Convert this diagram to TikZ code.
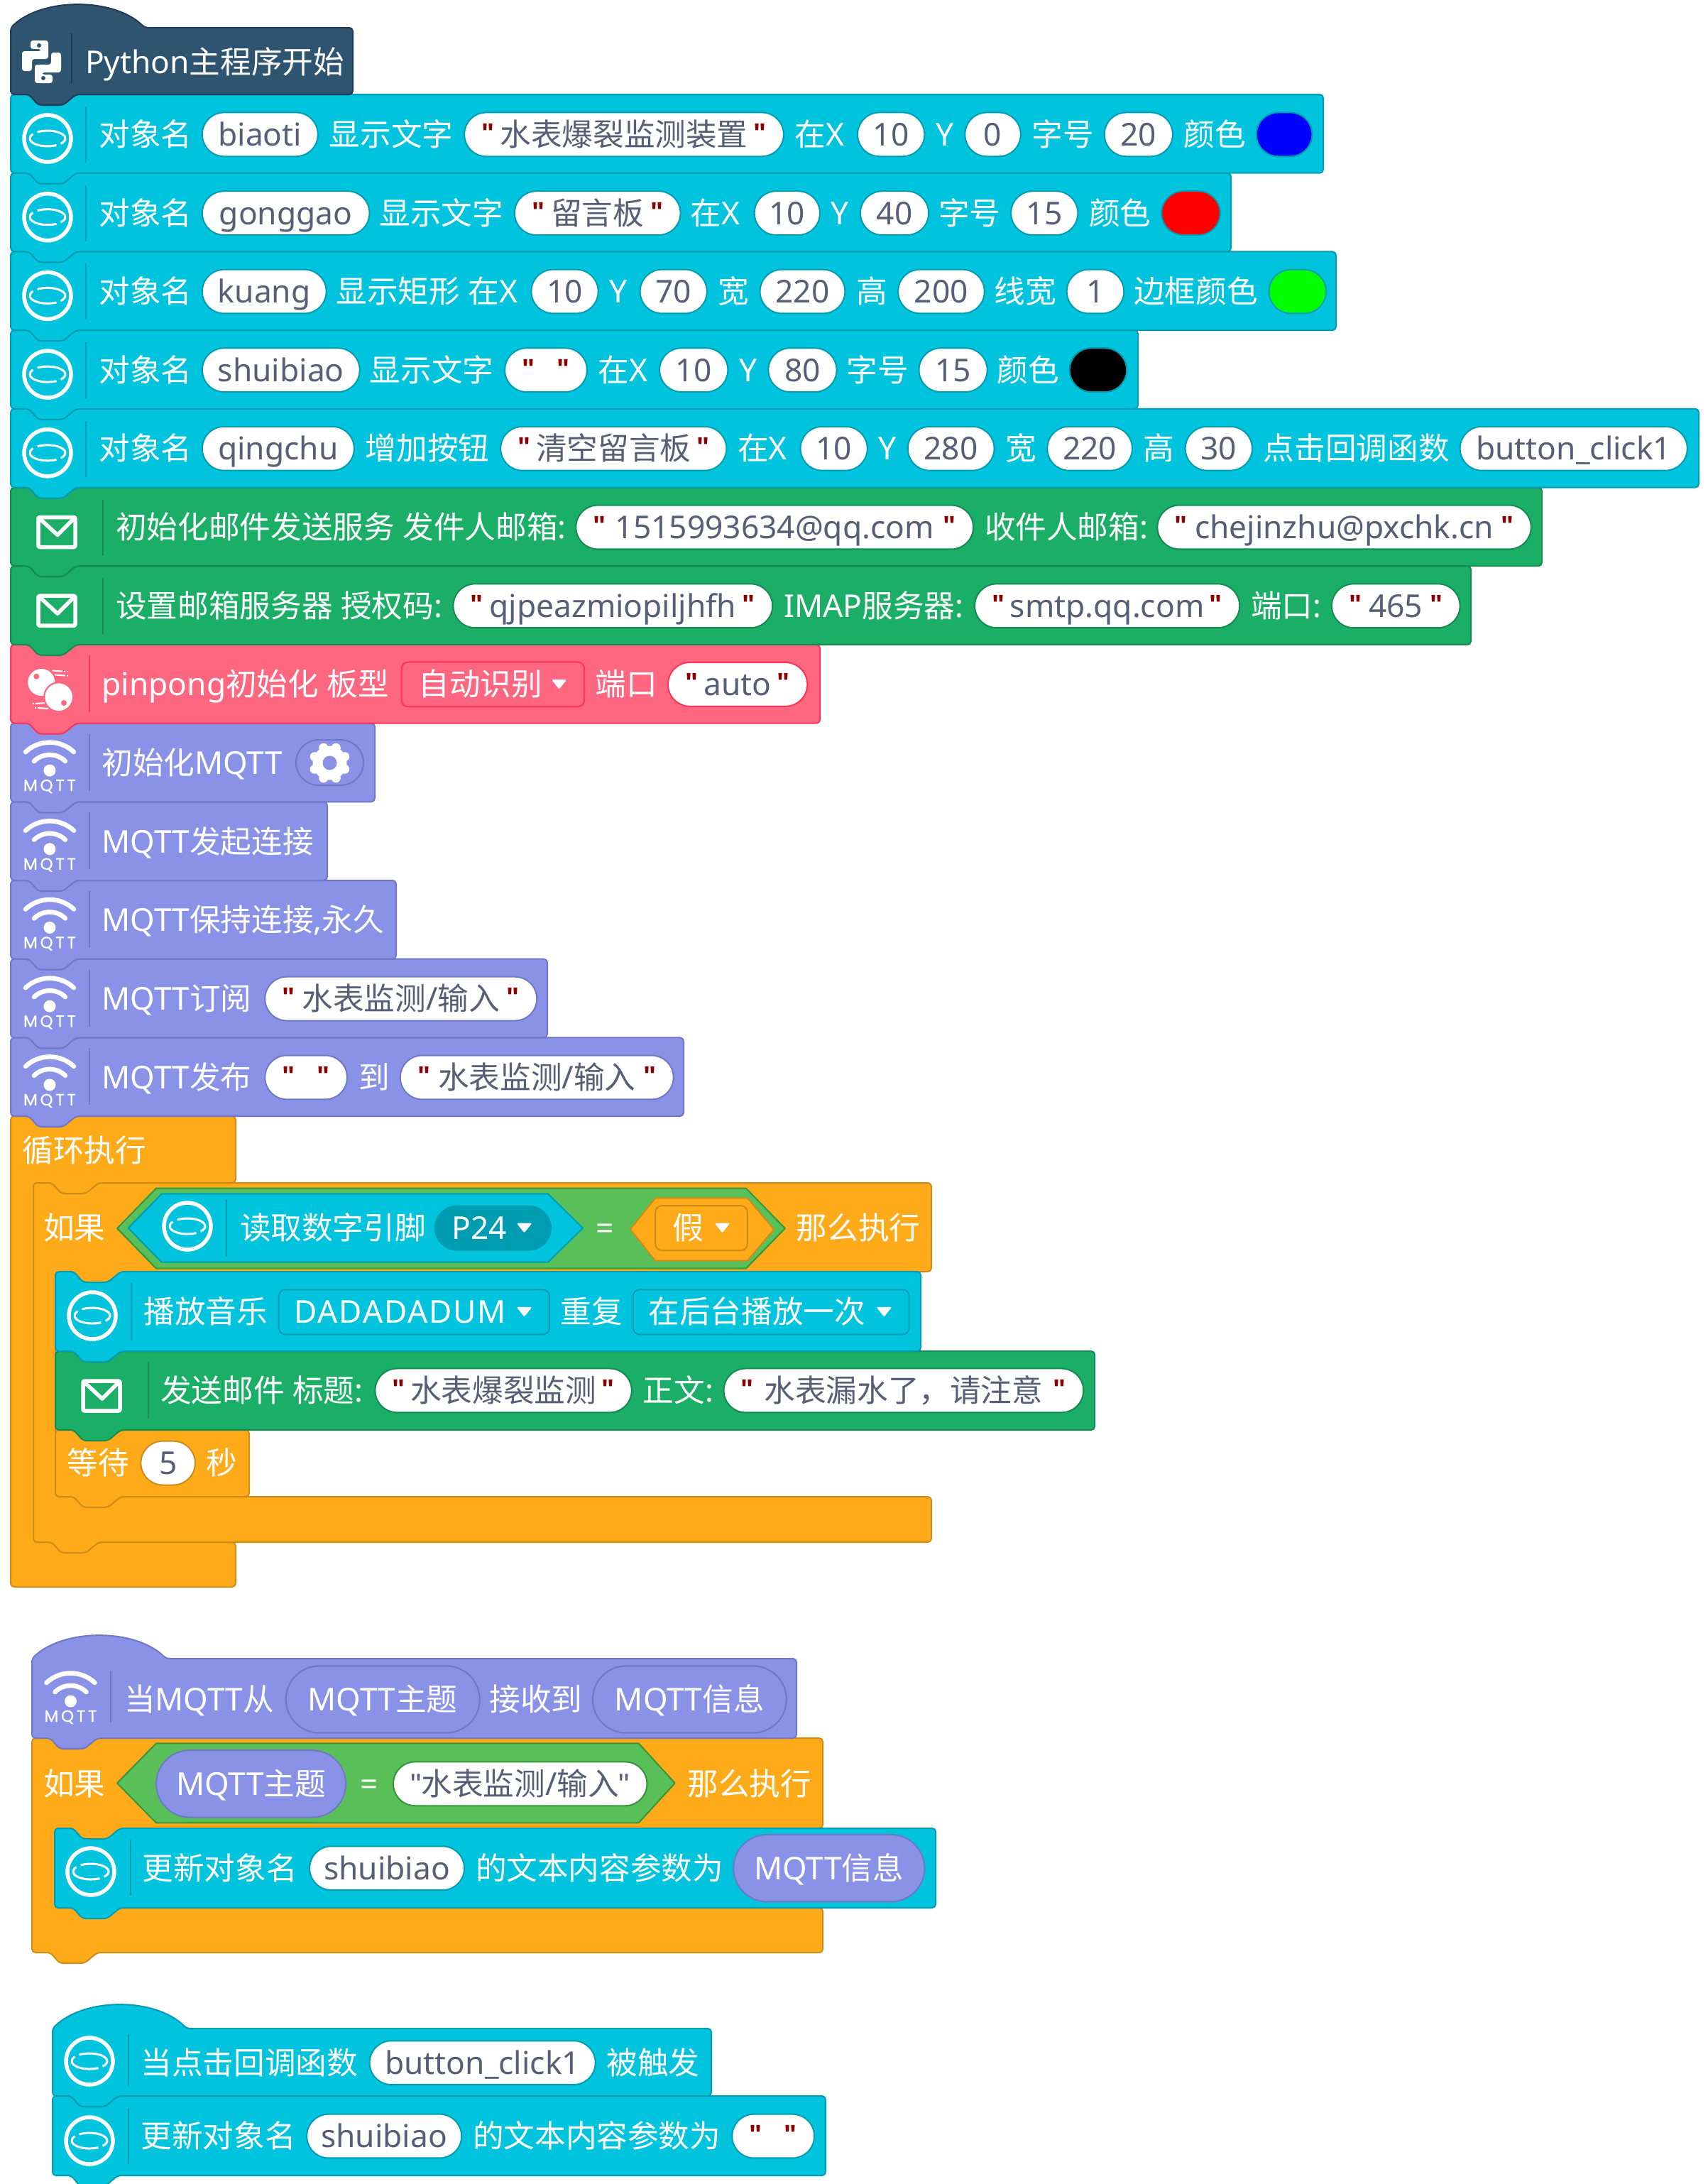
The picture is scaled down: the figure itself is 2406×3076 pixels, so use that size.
\documentclass[tikz,border=0pt]{standalone}
\usepackage{fontspec}
\setmainfont{Noto Sans}[Scale=1.03]
\newfontfamily\cjkf{Noto Sans CJK SC}[Scale=1.015]
\newfontfamily\mqf[LetterSpace=16,FakeBold=0.8]{Poppins}
\newfontfamily\qf{Liberation Sans}
\newcount\ccn
\ccn="3000 \loop \XeTeXcharclass\ccn=5 \advance\ccn 1 \ifnum\ccn<"A000 \repeat
\ccn="FF00 \loop \XeTeXcharclass\ccn=5 \advance\ccn 1 \ifnum\ccn<"FFF0 \repeat
\XeTeXinterchartoks 0 5 = {\cjkf}
\XeTeXinterchartoks 4095 5 = {\cjkf}
\XeTeXinterchartoks 5 0 = {\rmfamily}
\XeTeXinterchartoks 5 4095 = {\rmfamily}
\AtBeginDocument{\XeTeXinterchartokenstate=1}
\definecolor{cy}{HTML}{00C3DD}\definecolor{cyD}{HTML}{009CB1}
\definecolor{gr}{HTML}{1AAE66}\definecolor{grD}{HTML}{148B52}
\definecolor{re}{HTML}{FF6680}\definecolor{reD}{HTML}{FF3355}
\definecolor{pu}{HTML}{8A92E8}\definecolor{puD}{HTML}{6F78C4}
\definecolor{or}{HTML}{FFAB19}\definecolor{orD}{HTML}{CF8B17}
\definecolor{dk}{HTML}{2F5470}\definecolor{dkD}{HTML}{1F3B57}
\definecolor{bo}{HTML}{59C059}\definecolor{boD}{HTML}{389438}
\definecolor{tg}{HTML}{575E75}\definecolor{qc}{HTML}{8B0000}
\newcounter{nid}
\def\cs{cyD}\def\cf{cy}
\tikzset{
 lbl/.style={anchor=base west,inner sep=0pt,text=white,font=\fontsize{43}{50}\selectfont},
 ptx/.style={anchor=base,inner sep=0pt,text=tg,font=\fontsize{43}{50}\selectfont},
 wtx/.style={anchor=base,inner sep=0pt,text=white,font=\fontsize{43}{50}\selectfont},
 qtx/.style={anchor=base,inner sep=0pt,text=qc,font=\qf\bfseries\fontsize{38}{40}\selectfont},
 mtx/.style={anchor=base,inner sep=0pt,text=white,font=\mqf\fontsize{23}{25}\selectfont},
 edge/.style={line width=2pt,rounded corners=5pt,line join=round}
}
% block with top notch and bottom tab
\newcommand{\blk}[6]{\draw[edge,fill=#5,draw=#6] (#1,#2) -- ({#1+26},#2) -- ({#1+39},{#2+15}) -- ({#1+74},{#2+15}) -- ({#1+92},#2) -- (#4,#2) -- (#4,#3) -- ({#1+92},#3) -- ({#1+74},{#3+15}) -- ({#1+39},{#3+15}) -- ({#1+26},#3) -- (#1,#3) -- cycle;}
% hat: x, ybody, archeight, y2, xr, fill, stroke
\newcommand{\hatblk}[7]{\draw[edge,fill=#6,draw=#7] (#1,#2) .. controls ({#1+45},{#2-#3/0.75}) and ({#1+145},{#2-#3/0.75}) .. ({#1+189},#2) -- (#5,#2) -- (#5,#4) -- ({#1+92},#4) -- ({#1+74},{#4+15}) -- ({#1+39},{#4+15}) -- ({#1+26},#4) -- (#1,#4) -- cycle;}
\newcommand{\sepl}[4]{\draw[line width=2pt,draw=#4] (#1,#2) -- (#1,#3);}
\newcommand{\ring}[2]{\begin{scope}[shift={(#1,#2)}]
 \draw[white,line width=5.5pt] (0,0) circle[radius=33pt];
 \draw[white,line width=3pt] ({25*cos(-42)},{-11*sin(-42)}) arc[start angle=-42,end angle=125,x radius=25pt,y radius=11pt];
 \draw[white,line width=3pt] ({25*cos(145)},{-11*sin(145)}) arc[start angle=145,end angle=300,x radius=25pt,y radius=11pt];
 \end{scope}}
\newcommand{\wifi}[2]{\begin{scope}[shift={(#1,#2)}]
 \fill[white] (0,0) circle[radius=8.5pt];
 \draw[white,line width=6.5pt,line cap=round] (-34,-26) .. controls (-15,-44) and (15,-44) .. (34,-26);
 \draw[white,line width=6.5pt,line cap=round] (-22,-13) .. controls (-10,-25) and (10,-25) .. (22,-13);
 \stepcounter{nid}\node[mtx] (n\thenid) at (0,29) {MQTT};
 \end{scope}}
\newcommand{\mail}[2]{\begin{scope}[shift={(#1,#2)}]
 \draw[white,line width=5.5pt,rounded corners=2pt,line join=round] (0,0) rectangle (52,42);
 \draw[white,line width=5.5pt,line join=round,line cap=round] (1,1) -- (27,25) -- (51,1);
 \end{scope}}
\newcommand{\gear}[2]{\begin{scope}[shift={(#1,#2)}]
 \fill[white] (0,0) circle[radius=24pt];
 \foreach \a in {22.5,67.5,...,337.5}{\fill[white] (\a:23pt) circle[radius=6.5pt];}
 \fill[pu] (0,0) circle[radius=10pt];
 \end{scope}}
% overview-unit content
\newcommand{\tx}[3]{\stepcounter{nid}\node[lbl] (n\thenid) at (#1,{#2+8.1}) {#3};}
\newcommand{\pbody}[6]{\draw[line width=2pt,fill=#5,draw=#6,rounded corners={#4*1.9643pt}] (#1,{#3-#4}) rectangle (#2,{#3+#4});}
\newcommand{\pw}[4]{\pbody{#1}{#2}{#3}{15.75}{white}{\cs}\stepcounter{nid}\node[ptx] (n\thenid) at ({(#1+#2)/2},{#3+8.1}) {#4};}
\newcommand{\qs}[4]{\pbody{#1}{#2}{#3}{15.75}{white}{\cs}
 \stepcounter{nid}\node[ptx] (n\thenid) at ({(#1+#2)/2},{#3+8.1}) {#4};
 \stepcounter{nid}\node[qtx] (n\thenid) at ({#1+17},{#3+5.6}) {"};
 \stepcounter{nid}\node[qtx] (n\thenid) at ({#2-17},{#3+5.6}) {"};}
\newcommand{\pp}[5]{\pbody{#1}{#2}{#3}{#4}{pu}{puD}\stepcounter{nid}\node[wtx] (n\thenid) at ({(#1+#2)/2},{#3+8.1}) {#5};}
\newcommand{\sw}[4]{\pbody{#1}{#2}{#3}{15.75}{#4}{\cs}}
\newcommand{\ra}[2]{\fill[white,rounded corners=1.5pt] ({#1-5.5},{#2-3.5}) -- ({#1+5.5},{#2-3.5}) -- (#1,{#2+3.5}) -- cycle;}
\newcommand{\dd}[6]{\draw[line width=2pt,fill=\cf,draw=\cs,rounded corners=9pt] (#1,{#3-16}) rectangle (#2,{#3+16});\tx{#4}{#3}{#5}\ra{#6}{#3}}
\newcommand{\hexa}[8]{\draw[line width=2pt,line join=round,fill=#7,draw=#8] (#1,{(#5+#6)/2}) -- (#2,#5) -- (#3,#5) -- (#4,{(#5+#6)/2}) -- (#3,#6) -- (#2,#6) -- cycle;}
\begin{document}
\begin{tikzpicture}[x=1pt,y=-1pt]
\useasboundingbox (0,0) rectangle (2406,3076);
\fill[white] (0,0) rectangle (2406,3076);
% === stack 1, drawn bottom first ===
% loop
\draw[edge,fill=or,draw=orD] (15,1572) -- (41,1572) -- (54,1587) -- (89,1587) -- (107,1572) -- (332,1572) -- (332,1666) -- (139,1666) -- (121,1681) -- (86,1681) -- (73,1666) -- (47,1666) -- (47,2172) -- (332,2172) -- (332,2235) -- (15,2235) -- cycle;
% if
\draw[edge,fill=or,draw=orD] (47,1666) -- (73,1666) -- (86,1681) -- (121,1681) -- (139,1666) -- (1312,1666) -- (1312,1791) -- (170,1791) -- (152,1806) -- (117,1806) -- (104,1791) -- (78,1791) -- (78,2108) -- (1312,2108) -- (1312,2172) -- (139,2172) -- (121,2187) -- (86,2187) -- (73,2172) -- (47,2172) -- cycle;
\blk{78}{2014}{2108}{351}{or}{orD}
\blk{78}{1903}{2014}{1542}{gr}{grD}
\blk{78}{1791}{1903}{1297}{cy}{cyD}
\blk{15}{1461.4}{1572}{963}{pu}{puD}
\blk{15}{1350.7}{1461.4}{771}{pu}{puD}
\blk{15}{1240}{1350.7}{558}{pu}{puD}
\blk{15}{1129.3}{1240}{461}{pu}{puD}
\blk{15}{1018.6}{1129.3}{528}{pu}{puD}
\blk{15}{907.9}{1018.6}{1155}{re}{reD}
\blk{15}{797.2}{907.9}{2072}{gr}{grD}
\blk{15}{686.5}{797.2}{2172}{gr}{grD}
\blk{15}{575.8}{686.5}{2393}{cy}{cyD}
\blk{15}{465.1}{575.8}{1603}{cy}{cyD}
\blk{15}{354.4}{465.1}{1882}{cy}{cyD}
\blk{15}{243.7}{354.4}{1734}{cy}{cyD}
\blk{15}{133}{243.7}{1864}{cy}{cyD}
\hatblk{15}{39}{32}{133}{497}{dk}{dkD}
% === stack 2 ===
\draw[edge,fill=or,draw=orD] (45,2448) -- (71,2448) -- (84,2463) -- (119,2463) -- (137,2448) -- (1159,2448) -- (1159,2575) -- (169,2575) -- (151,2590) -- (116,2590) -- (103,2575) -- (77,2575) -- (77,2687) -- (1159,2687) -- (1159,2750) -- (137,2750) -- (119,2765) -- (84,2765) -- (71,2750) -- (45,2750) -- cycle;
\blk{77}{2575}{2687}{1318}{cy}{cyD}
\hatblk{45}{2336}{32}{2448}{1122}{pu}{puD}
% === stack 3 ===
\blk{74}{2952}{3064}{1163}{cy}{cyD}
\hatblk{74}{2857}{33}{2952}{1002}{cy}{cyD}
% separators
\sepl{101}{47}{118}{dkD}
\foreach \t in {133,243.7,354.4,465.1,575.8}{\sepl{121}{\t+17}{\t+96}{cyD}}
\foreach \t in {686.5,797.2}{\sepl{145}{\t+17}{\t+96}{grD}}
\sepl{126}{923}{1003}{reD}
\foreach \t in {1018.6,1129.3,1240,1350.7,1461.4}{\sepl{126}{\t+15}{\t+95}{puD}}
\sepl{185}{1807}{1888}{cyD}
\sepl{209}{1918}{1998}{grD}
\sepl{156}{2353}{2426}{puD}
\sepl{184}{2591}{2670}{cyD}
\sepl{181}{2865}{2937}{cyD}
\sepl{181}{2969}{3048}{cyD}
% icons
\foreach \t in {133,243.7,354.4,465.1,575.8}{\ring{67}{\t+62}}
\foreach \t in {686.5,797.2}{\mail{54}{\t+42}}
\mail{117}{1945}
\foreach \t in {1018.6,1129.3,1240,1350.7,1461.4}{\wifi{70}{\t+66.5}}
\wifi{99.5}{2396}
\ring{130}{1853}
\ring{128}{2636}
\ring{126}{2903}
\ring{126}{3015}
% python logo
\begin{scope}[shift={(31,57)}]
 \fill[white,rounded corners=3.5pt] (12,0) -- (37,0) -- (37,26) -- (14,26) -- (14,43) -- (0,43) -- (0,15) -- (27,15) -- (27,12) -- (12,12) -- cycle;
 \fill[white,rounded corners=3.5pt] (43,60) -- (18,60) -- (18,34) -- (41,34) -- (41,17) -- (55,17) -- (55,45) -- (28,45) -- (28,48) -- (43,48) -- cycle;
 \fill[dk] (24,7) circle[radius=3pt];
 \fill[dk] (30,53) circle[radius=3pt];
\end{scope}
% pinpong icon
\fill[white] (58.3,961) circle[radius=19pt];
\fill[re] (51.3,952.7) circle[radius=4pt];
\draw[re,line width=2.2pt,fill=white] (82.7,981.7) circle[radius=20.5pt];
\fill[re] (90,990) circle[radius=4pt];
\draw[white,line width=2pt] (73.5,944.5) -- (88,945.5);
\draw[white,line width=1.6pt,dash pattern=on 2pt off 3pt] (90,945.5) -- (96,946);
\draw[white,line width=2pt] (77,950.5) -- (92,951.5);
\draw[white,line width=1.6pt,dash pattern=on 2pt off 3pt] (94,951.5) -- (99,952);
\draw[white,line width=2pt] (63,990) -- (50,991);
\draw[white,line width=1.6pt,dash pattern=on 2pt off 3pt] (48,991) -- (43,991);
\draw[white,line width=2pt] (68,998) -- (53,997);
\draw[white,line width=1.6pt,dash pattern=on 2pt off 3pt] (51,997) -- (46,997);
% gear pill
\draw[line width=2pt,fill=pu,draw=puD,rounded corners=32pt] (417,1042) rectangle (512,1106);
\gear{464.5}{1074.5}
% === content in overview units ===
\begin{scope}[x=1.9643pt,y=-1.9643pt]
\tx{61}{44.5}{Python主程序开始}
\def\cs{cyD}\def\cf{cy}
\def\y{96.4}
\tx{71}{\y}{对象名}\pw{145}{228}{\y}{biaoti}\tx{236}{\y}{显示文字}\qs{333}{562}{\y}{水表爆裂监测装置}\tx{570}{\y}{在X}\pw{615}{663}{\y}{10}\tx{671}{\y}{Y}\pw{692}{732}{\y}{0}\tx{740}{\y}{字号}\pw{792}{841}{\y}{20}\tx{849}{\y}{颜色}\sw{901}{941}{\y}{blue}
\def\y{152.8}
\tx{71}{\y}{对象名}\pw{145}{265}{\y}{gonggao}\tx{272}{\y}{显示文字}\qs{369}{488}{\y}{留言板}\tx{495}{\y}{在X}\pw{541}{588}{\y}{10}\tx{596}{\y}{Y}\pw{617}{666}{\y}{40}\tx{673}{\y}{字号}\pw{725}{773}{\y}{15}\tx{781}{\y}{颜色}\sw{833}{875}{\y}{red}
\def\y{209}
\tx{71}{\y}{对象名}\pw{145}{234}{\y}{kuang}\tx{241}{\y}{显示矩形 在X}\pw{381}{429}{\y}{10}\tx{437}{\y}{Y}\pw{459}{507}{\y}{70}\tx{515}{\y}{宽}\pw{545}{606}{\y}{220}\tx{614}{\y}{高}\pw{644}{706}{\y}{200}\tx{713}{\y}{线宽}\pw{765}{806}{\y}{1}\tx{813}{\y}{边框颜色}\sw{910}{951}{\y}{green}
\def\y{265.3}
\tx{71}{\y}{对象名}\pw{145}{258}{\y}{shuibiao}\tx{265}{\y}{显示文字}\qs{362}{421}{\y}{}\tx{429}{\y}{在X}\pw{473}{522}{\y}{10}\tx{530}{\y}{Y}\pw{551}{600}{\y}{80}\tx{607}{\y}{字号}\pw{659}{708}{\y}{15}\tx{715}{\y}{颜色}\sw{767}{808}{\y}{black}
\def\y{321.6}
\tx{71}{\y}{对象名}\pw{145}{254}{\y}{qingchu}\tx{262}{\y}{增加按钮}\qs{359}{521}{\y}{清空留言板}\tx{529}{\y}{在X}\pw{574}{622}{\y}{10}\tx{630}{\y}{Y}\pw{651}{713}{\y}{280}\tx{721}{\y}{宽}\pw{751}{812}{\y}{220}\tx{820}{\y}{高}\pw{850}{898}{\y}{30}\tx{906}{\y}{点击回调函数}\pw{1047}{1210}{\y}{button\_click1}
\def\cs{grD}\def\cf{gr}
\def\y{378}
\tx{83}{\y}{初始化邮件发送服务 发件人邮箱:}\qs{413}{698}{\y}{1515993634@qq.com}\tx{706}{\y}{收件人邮箱:}\qs{830}{1098}{\y}{chejinzhu@pxchk.cn}
\def\y{434.4}
\tx{83}{\y}{设置邮箱服务器 授权码:}\qs{325}{554}{\y}{qjpeazmiopiljhfh}\tx{562}{\y}{IMAP服务器:}\qs{699}{889}{\y}{smtp.qq.com}\tx{897}{\y}{端口:}\qs{955}{1047}{\y}{465}
\def\cs{reD}\def\cf{re}
\def\y{490.7}
\tx{73}{\y}{pinpong初始化 板型}\dd{288}{419}{\y}{300}{自动识别}{401}\tx{427}{\y}{端口}\qs{479}{579}{\y}{auto}
\def\cs{puD}\def\cf{pu}
\tx{73}{547.1}{初始化MQTT}
\tx{73}{603.5}{MQTT发起连接}
\tx{73}{659.8}{MQTT保持连接,永久}
\def\y{716.1}
\tx{73}{\y}{MQTT订阅}\qs{190}{385}{\y}{水表监测/输入}
\def\y{772.5}
\tx{73}{\y}{MQTT发布}\qs{190}{249}{\y}{}\tx{257}{\y}{到}\qs{287}{483}{\y}{水表监测/输入}
\tx{16}{825}{循环执行}
% if head
\def\y{880.5}
\tx{31}{\y}{如果}
\hexa{84}{112}{535}{563}{852}{909.5}{bo}{boD}
\hexa{92}{116}{393}{418}{856}{905}{cy}{cyD}
\end{scope}
\ring{264}{1727}
\begin{scope}[x=1.9643pt,y=-1.9643pt]
\def\cs{cyD}\def\cf{cy}
\def\y{880.5}
\sepl{162.4}{860}{901}{cyD}
\tx{172}{\y}{读取数字引脚}
\pbody{312}{395}{\y}{15.75}{cyD}{cyD}
\tx{324}{\y}{P24}\ra{376}{\y}
\stepcounter{nid}\node[wtx] (n\thenid) at (434,{\y+8.1}) {=};
\hexa{452}{470}{536}{555}{859}{904}{or}{orD}
\def\cs{orD}\def\cf{or}
\dd{470}{536}{\y}{482}{假}{518}
\tx{571}{\y}{那么执行}
\def\cs{cyD}\def\cf{cy}
\def\y{940.7}
\tx{103}{\y}{播放音乐}\dd{200}{394}{\y}{211}{\addfontfeature{LetterSpace=4}DADADADUM}{376}\tx{402}{\y}{重复}\dd{454}{652}{\y}{465}{在后台播放一次}{634}
\def\cs{grD}\def\cf{gr}
\def\y{997}
\tx{115}{\y}{发送邮件 标题:}\qs{269}{453}{\y}{水表爆裂监测}\tx{461}{\y}{正文:}\qs{519}{777}{\y}{水表漏水了，请注意}
\def\cs{orD}\def\cf{or}
\def\y{1049}
\tx{48}{\y}{等待}\pw{101}{140}{\y}{5}\tx{148}{\y}{秒}
% stack 2
\def\y{1218.5}
\tx{89}{\y}{当MQTT从}\pp{205}{344}{\y}{24}{MQTT主题}\tx{351}{\y}{接收到}\pp{425}{564}{\y}{24}{MQTT信息}
\def\y{1279}
\tx{31}{\y}{如果}
\hexa{84}{112}{458}{484}{1250}{1307}{bo}{boD}
\pp{112}{248}{\y}{24}{MQTT主题}
\stepcounter{nid}\node[wtx] (n\thenid) at (265,{\y+8.1}) {=};
\def\cs{boD}\pw{282}{464}{\y}{{\qf"}水表监测/输入{\qf"}}
\tx{493}{\y}{那么执行}
\def\cs{cyD}\def\cf{cy}
\def\y{1339.5}
\tx{102}{\y}{更新对象名}\pw{222}{333}{\y}{shuibiao}\tx{341}{\y}{的文本内容参数为}\pp{526}{663}{\y}{24}{MQTT信息}
% stack 3
\def\y{1479}
\tx{101}{\y}{当点击回调函数}\pw{265}{427}{\y}{button\_click1}\tx{435}{\y}{被触发}
\def\y{1531.6}
\tx{101}{\y}{更新对象名}\pw{220}{331}{\y}{shuibiao}\tx{339}{\y}{的文本内容参数为}\qs{525}{584}{\y}{}
\end{scope}
\end{tikzpicture}
\end{document}
